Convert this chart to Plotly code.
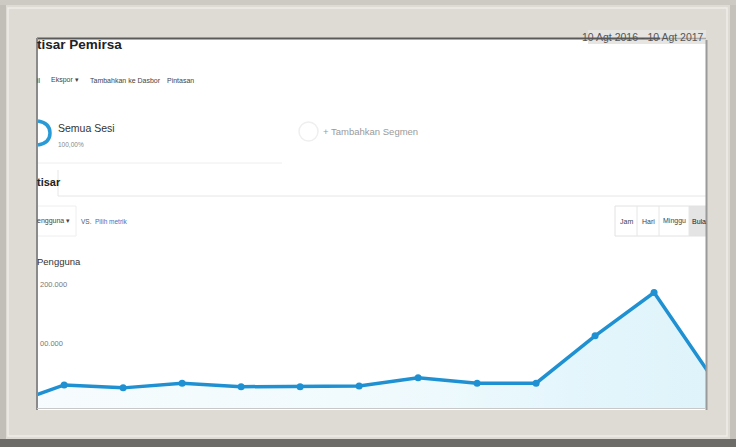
import plotly.graph_objects as go

W, H = 736, 447

months = ["Agt 2016", "Sep 2016", "Okt 2016", "Nov 2016", "Des 2016", "Jan 2017", "Feb 2017",
          "Mar 2017", "Apr 2017", "Mei 2017", "Jun 2017", "Jul 2017", "Agt 2017"]
users = [3000, 39000, 34000, 42000, 36000, 36000, 37000, 51000, 42000, 42000, 122000, 195000, 49000]
ytick_vals = [100000, 200000]
ytick_text = ["00.000", "200.000"]

FONT = "Liberation Sans Narrow, Liberation Sans, Arial, sans-serif"
BLUE = "#1f91d2"


def px(x):
    return x / W


def py(y):
    return 1 - y / H


fig = go.Figure()
fig.add_trace(go.Scatter(
    x=list(range(len(months))), y=users,
    mode="lines+markers",
    line=dict(color=BLUE, width=3.5),
    marker=dict(color=BLUE, size=7),
    fill="tozeroy",
    fillgradient=dict(type="horizontal",
                      colorscale=[[0, "rgb(247,252,254)"], [0.55, "rgb(240,250,253)"],
                                  [0.8, "rgb(228,246,252)"], [1, "rgb(222,243,250)"]]),
    hoverinfo="skip", showlegend=False,
    customdata=months,
))

shapes = []
# frame bands
shapes.append(dict(type="rect", xref="paper", yref="paper", x0=0, x1=1, y0=py(447), y1=py(439),
                   fillcolor="#6e6c69", line=dict(width=0), layer="below"))
shapes.append(dict(type="rect", xref="paper", yref="paper", x0=0, x1=px(6), y0=py(439), y1=1,
                   fillcolor="#c2bfb9", line=dict(width=0), layer="below"))
shapes.append(dict(type="rect", xref="paper", yref="paper", x0=px(730), x1=1, y0=py(439), y1=1,
                   fillcolor="#c5c2bc", line=dict(width=0), layer="below"))
shapes.append(dict(type="rect", xref="paper", yref="paper", x0=0, x1=1, y0=py(5), y1=1,
                   fillcolor="#cdcac4", line=dict(width=0), layer="below"))
# inner bevel
shapes.append(dict(type="rect", xref="paper", yref="paper", x0=px(8), x1=px(727), y0=py(436), y1=py(8),
                   fillcolor="rgba(0,0,0,0)", line=dict(color="#efede9", width=1.5), layer="below"))
# white panel
shapes.append(dict(type="rect", xref="paper", yref="paper", x0=px(37), x1=px(706), y0=py(410), y1=py(38),
                   fillcolor="#ffffff", line=dict(width=0), layer="below"))
# date label background
shapes.append(dict(type="rect", xref="paper", yref="paper", x0=px(588), x1=px(706), y0=py(44), y1=py(30),
                   fillcolor="#e6e5e2", line=dict(width=0), layer="below"))
# panel shadows
shapes.append(dict(type="line", xref="paper", yref="paper", x0=px(37), x1=px(660), y0=py(38.5), y1=py(38.5),
                   line=dict(color="#5a5a5a", width=2), layer="below"))
shapes.append(dict(type="line", xref="paper", yref="paper", x0=px(660), x1=px(706), y0=py(38.5), y1=py(38.5),
                   line=dict(color="#aaaaaa", width=1.5), layer="below"))
shapes.append(dict(type="line", xref="paper", yref="paper", x0=px(37), x1=px(37), y0=py(410), y1=py(38),
                   line=dict(color="#8a8a8a", width=2), layer="above"))
shapes.append(dict(type="line", xref="paper", yref="paper", x0=px(706.5), x1=px(706.5), y0=py(410), y1=py(40),
                   line=dict(color="#9a9a9a", width=2), layer="above"))
# segment separator and tab
shapes.append(dict(type="line", xref="paper", yref="paper", x0=px(37), x1=px(282), y0=py(163), y1=py(163),
                   line=dict(color="#eeeeee", width=1), layer="below"))
shapes.append(dict(type="line", xref="paper", yref="paper", x0=px(58), x1=px(58), y0=py(196), y1=py(170),
                   line=dict(color="#e6e6e6", width=1), layer="below"))
shapes.append(dict(type="line", xref="paper", yref="paper", x0=px(58), x1=px(706), y0=py(196), y1=py(196),
                   line=dict(color="#e6e6e6", width=1), layer="below"))
# metric dropdown box
shapes.append(dict(type="rect", xref="paper", yref="paper", x0=px(37), x1=px(76), y0=py(236), y1=py(206),
                   fillcolor="rgba(0,0,0,0)", line=dict(color="#eeeeee", width=1), layer="below"))
# period buttons
shapes.append(dict(type="rect", xref="paper", yref="paper", x0=px(689), x1=px(706), y0=py(236), y1=py(206),
                   fillcolor="#e4e4e4", line=dict(width=0), layer="below"))
shapes.append(dict(type="rect", xref="paper", yref="paper", x0=px(615), x1=px(706), y0=py(236), y1=py(206),
                   fillcolor="rgba(0,0,0,0)", line=dict(color="#e2e2e2", width=1), layer="below"))
for xb in [637, 659, 689]:
    shapes.append(dict(type="line", xref="paper", yref="paper", x0=px(xb), x1=px(xb), y0=py(236), y1=py(206),
                       line=dict(color="#e6e6e6", width=1), layer="below"))
# segment circles
shapes.append(dict(type="path", xref="paper", yref="paper",
                   path=f"M {px(38)},{py(121)} Q {px(50)},{py(123)} {px(50)},{py(133)} Q {px(50)},{py(143)} {px(38)},{py(145)}",
                   line=dict(color="#2a9ad6", width=3.5), layer="above"))
shapes.append(dict(type="circle", xref="paper", yref="paper", x0=px(299), x1=px(318), y0=py(141), y1=py(122),
                   line=dict(color="#efefef", width=1.5), layer="below"))
# x axis baseline
shapes.append(dict(type="line", xref="paper", yref="paper", x0=px(37), x1=px(706), y0=py(408.5), y1=py(408.5),
                   line=dict(color="#c8c8c8", width=1), layer="above"))

annotations = []


def txt(x, y, s, size=8, color="#444", bold=False, anchor="left"):
    if bold:
        s = f"<b>{s}</b>"
    annotations.append(dict(xref="paper", yref="paper", x=px(x), y=py(y), text=s, showarrow=False,
                            xanchor=anchor, yanchor="middle",
                            font=dict(family=FONT, size=size, color=color)))


txt(35, 44, "tisar Pemirsa", size=13.5, color="#222", bold=True)
txt(706, 37, "10 Agt 2016 - 10 Agt 2017", size=10.5, color="#555", anchor="right")
txt(35, 80, "il", size=7, color="#444")
txt(49, 80, "Ekspor \u25be", size=7, color="#444")
txt(88, 80, "Tambahkan ke Dasbor", size=7, color="#444")
txt(165, 80, "Pintasan", size=7, color="#444")
txt(56, 128, "Semua Sesi", size=10.5, color="#333")
txt(56, 144, "100,00%", size=6.5, color="#888")
txt(321, 131, "+ Tambahkan Segmen", size=9.5, color="#9a9a9a")
txt(35, 182, "tisar", size=11, color="#222", bold=True)
txt(35, 221, "engguna \u25be", size=7, color="#444")
txt(79, 221, "VS.", size=6.5, color="#555")
txt(93, 221, "Pilih metrik", size=6.5, color="#3b6fc9")
txt(626, 221, "Jam", size=7, color="#444", anchor="center")
txt(648, 221, "Hari", size=7, color="#444", anchor="center")
txt(674, 221, "Minggu", size=7, color="#444", anchor="center")
txt(690, 221, "Bula", size=7, color="#222")
txt(35, 261, "Pengguna", size=9.5, color="#333")

fig.update_layout(
    width=W, height=H,
    margin=dict(l=0, r=0, t=0, b=0),
    paper_bgcolor="#dedbd5", plot_bgcolor="rgba(0,0,0,0)",
    shapes=shapes, annotations=annotations,
    xaxis=dict(domain=[px(37), px(706)], range=[0.54, 11.88], showgrid=False, zeroline=False,
               showticklabels=False, ticks="", fixedrange=True),
    yaxis=dict(domain=[py(408), py(260)], range=[0, 250000], showgrid=False, zeroline=False,
               tickvals=ytick_vals, ticktext=ytick_text, ticklabelposition="inside top",
               tickfont=dict(family=FONT, size=7.5, color="#777"), ticks="", fixedrange=True),
)

fig.write_html("out.html", config={"displayModeBar": False},
               post_script="document.body.style.margin='0px';document.body.style.overflow='hidden';")
